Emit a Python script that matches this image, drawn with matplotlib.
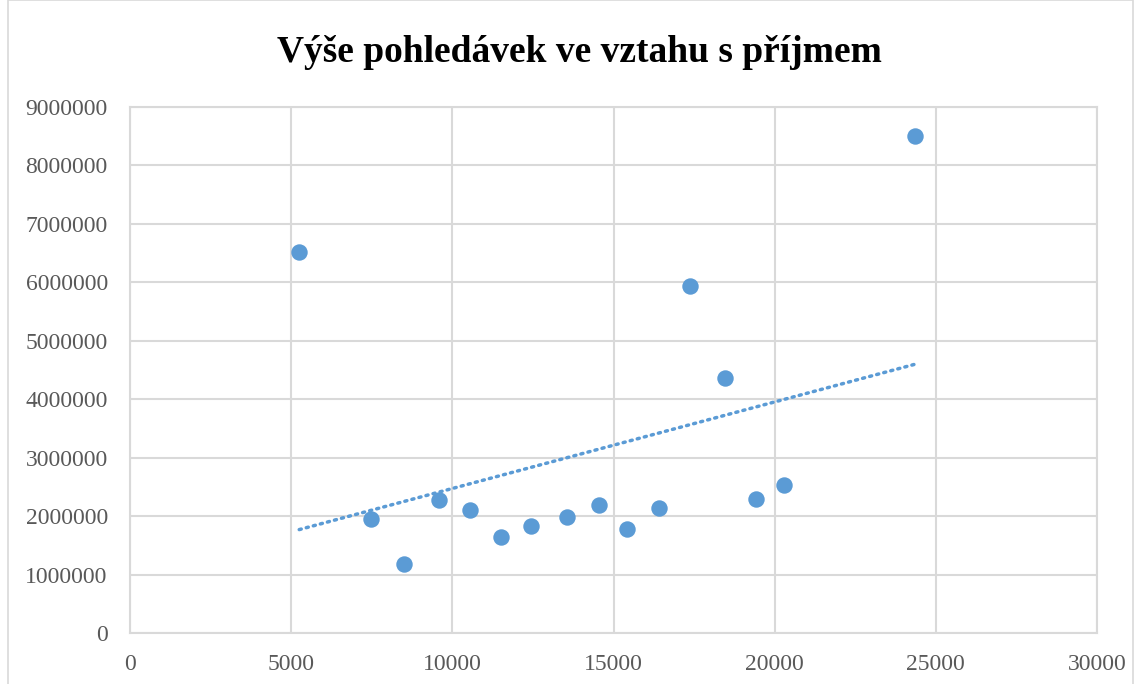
import numpy as np
import matplotlib.pyplot as plt
from matplotlib.patches import Rectangle

# Income (x) and receivables (y)
income = [5250, 7480, 8500, 9590, 10550, 11510, 12440, 13560, 14550, 15420,
          16410, 17380, 18460, 19420, 20290, 24360]
receivables = [6520000, 1960000, 1180000, 2270000, 2100000, 1640000, 1830000,
               1980000, 2190000, 1790000, 2140000, 5940000, 4370000, 2290000,
               2540000, 8500000]

blue = '#5B9BD5'
grid_col = '#D9D9D9'
text_col = '#595959'

plt.rcParams['font.family'] = ['Liberation Serif', 'DejaVu Serif']

fig = plt.figure(figsize=(11.41, 6.84), dpi=100)
ax = fig.add_axes([130 / 1141, 1 - 633.3 / 684, 967 / 1141, 526.6 / 684])

# outer chart border
fig.patches.append(Rectangle((8 / 1141, -0.05), 1125 / 1141, 1.05,
                             transform=fig.transFigure, fill=False,
                             edgecolor=grid_col, linewidth=1.2))

x = np.array(income)
y = np.array(receivables)

# linear trendline
k, q = np.polyfit(x, y, 1)
xt = np.array([x.min(), x.max()])
ax.plot(xt, k * xt + q, color=blue, linestyle=(0, (0.6, 1.5)),
        linewidth=2.5, dash_capstyle='round', zorder=2)

ax.scatter(x, y, s=140, color=blue, zorder=3, linewidths=0)

ax.set_xlim(0, 30000)
ax.set_ylim(0, 9000000)
ax.set_xticks(np.arange(0, 30001, 5000))
ax.set_yticks(np.arange(0, 9000001, 1000000))
ax.set_xticklabels([str(v) for v in range(0, 30001, 5000)])
ax.set_yticklabels([str(v) for v in range(0, 9000001, 1000000)])

ax.grid(True, color=grid_col, linewidth=1.5)
ax.set_axisbelow(True)
for s in ax.spines.values():
    s.set_color(grid_col)
    s.set_linewidth(1.5)
ax.tick_params(length=0, labelsize=17, labelcolor=text_col)
ax.tick_params(axis='y', pad=16)
ax.tick_params(axis='x', pad=15)

fig.text(0.508, 1 - 52 / 684, 'Výše pohledávek ve vztahu s příjmem',
         ha='center', va='center', fontsize=27, fontweight='bold',
         color='black')

fig.savefig('out.png', dpi=100)
